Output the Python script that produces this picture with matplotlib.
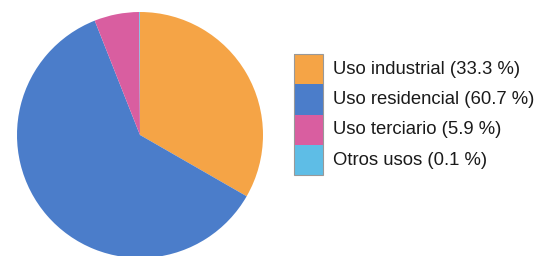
import matplotlib
matplotlib.use("Agg")
import matplotlib.pyplot as plt
from matplotlib.patches import Rectangle

# Datos del gráfico
etiquetas = ["Uso industrial", "Uso residencial", "Uso terciario", "Otros usos"]
porcentajes = [33.3, 60.7, 5.9, 0.1]
colores = ["#F5A446", "#4B7DCA", "#D95EA0", "#5EBDE6"]

plt.rcParams['font.family'] = ['Liberation Sans', 'DejaVu Sans']

fig = plt.figure(figsize=(5.4, 2.56), dpi=100)

# Tarta: centro (140, 135) px, radio 123 px
W, H = 540, 256
cx, cy, r = 140, 135, 123
ax = fig.add_axes([(cx - r) / W, (H - cy - r) / H, 2 * r / W, 2 * r / H])
ax.pie(porcentajes, colors=colores, startangle=90, counterclock=False,
       wedgeprops=dict(linewidth=0))
ax.set_xlim(-1, 1)
ax.set_ylim(-1, 1)
ax.set_aspect('equal')

# Leyenda dibujada a mano: cajas pegadas una debajo de otra
x0, y0, bw, bh = 294, 54, 29, 30.3
for i, (et, p, c) in enumerate(zip(etiquetas, porcentajes, colores)):
    top = y0 + i * bh
    fig.add_artist(Rectangle((x0 / W, (H - top - bh) / H), bw / W, bh / H,
                             facecolor=c, edgecolor='none',
                             transform=fig.transFigure))
    fig.text(333 / W, (H - top - bh / 2) / H, f"{et} ({p} %)",
             fontsize=13.3, va='center', ha='left', color='#1a1a1a')

# borde gris alrededor de las cajas
fig.add_artist(Rectangle((x0 / W, (H - y0 - 4 * bh) / H), bw / W, 4 * bh / H,
                         facecolor='none', edgecolor='#999999', linewidth=0.8,
                         transform=fig.transFigure))

fig.savefig("out.png", dpi=100)
